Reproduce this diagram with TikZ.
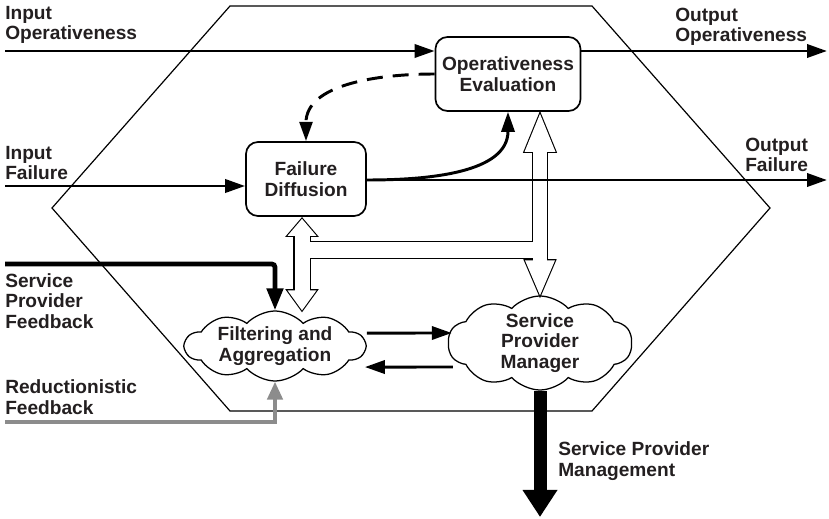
\documentclass[tikz,border=0pt]{standalone}
\usepackage{fontspec}
\setmainfont{Liberation Sans}
\usetikzlibrary{shapes,arrows.meta,calc}

\definecolor{txt}{HTML}{231F20}
\definecolor{feedgray}{HTML}{8C8C8C}

\begin{document}
\begin{tikzpicture}[x=0.025cm,y=-0.025cm]
        \tikzstyle{every node}=[font=\fontsize{13.6}{14.6}\selectfont\bfseries, text=txt]
        \tikzstyle{lbl}=[align=left, anchor=west, inner sep=0pt]
        \tikzstyle{box}=[draw, line width=1.2pt, rounded corners=0.3cm, fill=white, align=center, minimum height=1.85cm]
        \tikzstyle{blob}=[draw, cloud, cloud puffs=10, cloud puff arc=95, cloud ignores aspect, line width=0.9pt, fill=white, align=center, inner xsep=0pt, inner ysep=-0.3cm]
        \tikzstyle{arr}=[line width=2.1pt, -{Triangle[length=0.5cm,width=0.33cm]}]
        \tikzstyle{hstroke}=[draw, line width=1.6pt, fill=black]
        \tikzstyle{hfill}=[fill=white]

        \useasboundingbox (0,0) rectangle (829,519);

        % hexagon
        \draw[line width=0.85pt] (230,6) -- (592,6) -- (770,208) -- (592,411) -- (230,411) -- (52,208) -- cycle;

        \node[box, minimum width=3.625cm] (oe) at (508,74) {Operativeness\\Evaluation};
        \node[box, minimum width=3cm] (fd) at (306,179) {Failure\\Diffusion};
        \node[blob, minimum width=4.5cm, minimum height=1.75cm] (fa) at (275,346) {Filtering and\\Aggregation};
        \node[blob, minimum width=4.6cm, minimum height=2.35cm] (spm) at (540,343) {Service\\Provider\\Manager};

        \coordinate (inop) at (5,51);
        \coordinate (outop) at (827,51);
        \coordinate (infail) at (5,186);
        \coordinate (outfail) at (827,180);
        \coordinate (spf) at (5,264);
        \coordinate (rf) at (5,422);
        \coordinate (mgmt) at (540,517);

        \node[lbl] (inoplbl) at (5,25) {Input\\Operativeness};
        \node[lbl] (outoplbl) at (675,27) {Output\\Operativeness};
        \node[lbl] (infaillbl) at (5,163) {Input\\Failure};
        \node[lbl] (outfaillbl) at (745,155) {Output\\Failure};
        \node[lbl] (spflbl) at (5,301) {Service\\Provider\\Feedback};
        \node[lbl] (rflbl) at (5,397) {Reductionistic\\Feedback};
        \node[lbl] (mgmtlbl) at (558,461) {Service Provider\\Management};

        % hollow double arrows
        \coordinate (rt) at ($(spm.north |- oe.south)+(0,2)$);
        \coordinate (lt) at ($(fd.south)+(-4,2)$);
        \coordinate (lb) at (lt |- fa.north);
        \coordinate (hb) at (0,250);
        \def\hollowparts#1{%
            #1 ($(rt)+(-7,36)$) rectangle ($(spm.north)+(7,-33)$);
            #1 ($(lt)+(-7.5,15)$) rectangle ($(lb)+(7.5,-18)$);
            #1 ($(lt |- hb)+(0,-8)$) rectangle ($(rt |- hb)+(0,8)$);
            #1 (rt) -- ++(15.5,38) -- ++(-31,0) -- cycle;
            #1 (spm.north) -- ++(15,-35) -- ++(-30,0) -- cycle;
            #1 (lt) -- ++(14.5,17) -- ++(-29,0) -- cycle;
            #1 (lb) -- ++(14.5,-20) -- ++(-29,0) -- cycle;
        }
        \hollowparts{\path[hstroke]}
        \hollowparts{\path[hfill]}

        \draw[arr] (inop) -- (inop -| oe.west);                    % in -> eval
        \draw[arr] (inop -| oe.east) -- (outop);                   % eval -> out
        \draw[arr] (infail) -- (infail -| fd.west);                % in -> diffusion
        \draw[arr] (outfail -| fd.east) -- (outfail);              % diffusion -> out
        \draw[arr] (outfail -| fd.east) to[out=0,in=-90] (oe.south); % diffusion -> eval
        \draw[arr, dash pattern=on 0.4cm off 0.25cm, -{Triangle[length=0.48cm,width=0.32cm]}] (oe.west) to[out=180,in=90] (fd.north); % eval -> diffusion

        \draw[arr] ($(fa.east)+(0,-13)$) -- ($(spm.west)+(4,-10)$);   % filter -> manager
        \draw[arr] ($(spm.west)+(5,24)$) -- ($(fa.east)+(-2,21)$);    % manager -> filter

        \draw[line width=3.4pt, rounded corners=0.08cm, -{Triangle[length=0.55cm,width=0.4cm]}] (spf) -| (fa.north);
        \draw[feedgray, line width=2.8pt, -{Triangle[length=0.45cm,width=0.38cm]}] (rf) -| (fa.south);
        \draw[line width=0.325cm, -{Triangle[length=0.675cm,width=0.825cm]}] (spm.south) -- (mgmt);

\end{tikzpicture}
\end{document}
